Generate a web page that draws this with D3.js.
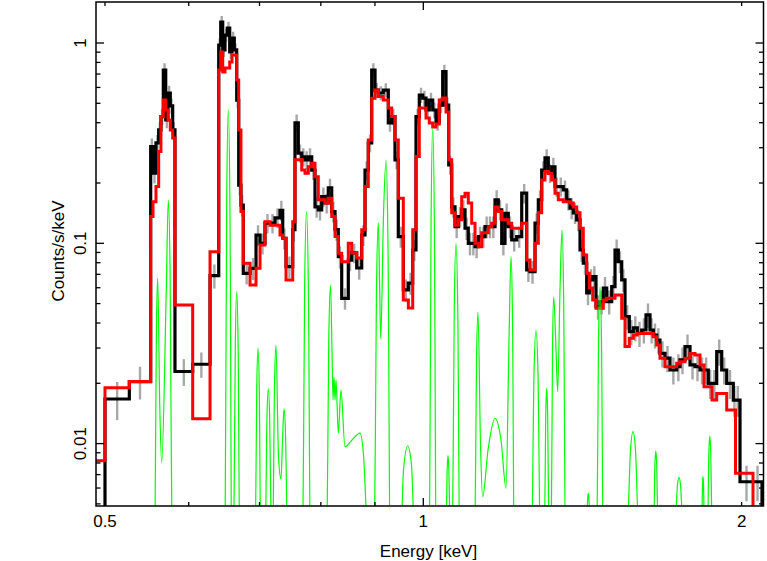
<!DOCTYPE html>
<html><head><meta charset="utf-8">
<script src="https://cdn.jsdelivr.net/npm/d3@7"></script>
<style>html,body{margin:0;padding:0;background:#fff;} svg{display:block;}</style>
</head><body>
<svg id="chart" width="767" height="561"></svg>
<script>
// Bin edges (keV), shared by data and model
const binEdges = [0.4860,0.5000,0.5272,0.5523,0.5551,0.5587,0.5620,0.5648,0.5677,0.5707,0.5735,0.5764,0.5794,0.5823,0.6052,0.6285,0.6405,0.6433,0.6461,0.6493,0.6526,0.6560,0.6593,0.6626,0.6661,0.6690,0.6723,0.6757,0.6857,0.6947,0.7008,0.7084,0.7162,0.7240,0.7319,0.7363,0.7416,0.7525,0.7562,0.7617,0.7674,0.7729,0.7785,0.7843,0.7899,0.7956,0.8015,0.8073,0.8131,0.8192,0.8251,0.8310,0.8372,0.8493,0.8556,0.8650,0.8745,0.8808,0.8871,0.8937,0.9002,0.9067,0.9166,0.9266,0.9335,0.9402,0.9470,0.9574,0.9679,0.9772,0.9842,0.9913,0.9987,1.0059,1.0131,1.0207,1.0280,1.0354,1.0431,1.0507,1.0569,1.0638,1.0715,1.0792,1.0872,1.0951,1.1029,1.1111,1.1192,1.1272,1.1356,1.1438,1.1520,1.1606,1.1690,1.1774,1.1862,1.1947,1.2033,1.2123,1.2255,1.2390,1.2525,1.2616,1.2754,1.2846,1.2941,1.3034,1.3128,1.3226,1.3321,1.3417,1.3564,1.3665,1.3764,1.3863,1.3966,1.4067,1.4168,1.4273,1.4354,1.4461,1.4565,1.4693,1.4799,1.4909,1.5072,1.5181,1.5290,1.5404,1.5515,1.5661,1.5798,1.5936,1.6089,1.6241,1.6383,1.6501,1.6624,1.6743,1.6927,1.7112,1.7364,1.7489,1.7680,1.7874,1.8069,1.8267,1.8427,1.8600,1.8751,1.8944,1.9151,1.9361,1.9641,1.9735,1.9930,2.0502,2.0908,2.1275];

// Observed count rate (counts/s/keV)
const dataRate = [0.003,0.0167,0.0204,0.304,0.224,0.317,0.368,0.429,0.733,0.413,0.563,0.485,0.368,0.0229,0.0249,0.0689,0.977,1.273,0.923,1.096,1.188,0.902,1.059,0.923,0.519,0.195,0.155,0.0708,0.0750,0.110,0.100,0.126,0.126,0.134,0.146,0.106,0.0764,0.117,0.399,0.282,0.270,0.261,0.270,0.232,0.152,0.147,0.171,0.159,0.189,0.144,0.117,0.0857,0.0531,0.0825,0.0895,0.0753,0.110,0.232,0.317,0.733,0.582,0.563,0.582,0.399,0.429,0.261,0.108,0.0585,0.0633,0.0926,0.429,0.550,0.531,0.463,0.519,0.463,0.403,0.490,0.719,0.490,0.246,0.152,0.121,0.136,0.147,0.119,0.100,0.100,0.0962,0.108,0.108,0.121,0.121,0.121,0.165,0.147,0.100,0.141,0.121,0.104,0.108,0.178,0.0736,0.0722,0.126,0.165,0.232,0.267,0.224,0.241,0.192,0.192,0.185,0.165,0.150,0.142,0.131,0.0926,0.0797,0.0565,0.0656,0.0681,0.0483,0.0511,0.0598,0.0511,0.0607,0.0926,0.0809,0.0656,0.0430,0.0362,0.0378,0.0355,0.0369,0.0439,0.0369,0.0348,0.0329,0.0282,0.0267,0.0233,0.0242,0.0262,0.0305,0.0247,0.0242,0.0233,0.0233,0.0200,0.0200,0.0288,0.0233,0.0200,0.0165,0.0165,0.00645,0.00645,0.003];

// 1-sigma errors on the observed rate
const dataErr = [0,0.0036,0.0038,0.030,0.025,0.030,0.034,0.039,0.060,0.038,0.048,0.043,0.034,0.0035,0.0036,0.0095,0.075,0.090,0.072,0.082,0.087,0.071,0.080,0.072,0.046,0.022,0.019,0.0085,0.0095,0.013,0.012,0.014,0.014,0.015,0.017,0.013,0.0095,0.015,0.040,0.029,0.028,0.027,0.028,0.025,0.018,0.017,0.019,0.018,0.021,0.017,0.014,0.011,0.0065,0.010,0.010,0.0095,0.013,0.025,0.032,0.060,0.050,0.045,0.047,0.038,0.040,0.027,0.013,0.0075,0.0080,0.011,0.040,0.048,0.046,0.042,0.046,0.042,0.038,0.044,0.060,0.044,0.026,0.018,0.015,0.016,0.017,0.015,0.013,0.013,0.012,0.013,0.013,0.015,0.015,0.015,0.019,0.017,0.013,0.017,0.015,0.013,0.013,0.020,0.0095,0.0093,0.015,0.019,0.025,0.028,0.024,0.026,0.021,0.021,0.021,0.019,0.018,0.017,0.016,0.012,0.010,0.0075,0.0085,0.0088,0.0068,0.0070,0.0080,0.0070,0.0080,0.012,0.010,0.0085,0.0060,0.0052,0.0054,0.0051,0.0053,0.0062,0.0053,0.0050,0.0048,0.0042,0.0040,0.0036,0.0037,0.0040,0.0045,0.0038,0.0037,0.0036,0.0036,0.0033,0.0033,0.0043,0.0036,0.0033,0.0029,0.0029,0.0013,0.0013,0];

// Folded model rate
const modelRate = [0.0082,0.0190,0.0204,0.136,0.161,0.192,0.287,0.429,0.519,0.463,0.413,0.368,0.336,0.0492,0.0133,0.0908,0.733,0.902,0.716,0.750,0.750,0.804,0.871,0.871,0.654,0.368,0.144,0.0795,0.0619,0.0750,0.0981,0.128,0.123,0.123,0.110,0.106,0.0656,0.128,0.261,0.261,0.232,0.224,0.241,0.251,0.215,0.165,0.165,0.159,0.168,0.136,0.108,0.0891,0.0809,0.100,0.0895,0.0845,0.117,0.192,0.328,0.530,0.582,0.540,0.519,0.474,0.429,0.328,0.168,0.0521,0.0475,0.117,0.271,0.474,0.474,0.422,0.399,0.381,0.394,0.519,0.531,0.452,0.261,0.142,0.123,0.131,0.171,0.178,0.159,0.126,0.100,0.0962,0.113,0.113,0.121,0.126,0.152,0.144,0.131,0.131,0.126,0.119,0.119,0.126,0.0825,0.0736,0.100,0.142,0.207,0.228,0.224,0.207,0.178,0.165,0.161,0.161,0.159,0.152,0.142,0.119,0.0874,0.0708,0.0598,0.0521,0.0474,0.0474,0.0521,0.0531,0.0531,0.0552,0.0552,0.0422,0.0305,0.0336,0.0348,0.0355,0.0355,0.0355,0.0355,0.0342,0.0311,0.0267,0.0242,0.0242,0.0252,0.0256,0.0267,0.0282,0.0277,0.0247,0.0192,0.0192,0.0165,0.0178,0.0178,0.0147,0.0147,0.00711,0.00711,0.003,0.003];

// Line-emission component (unfolded), sampled curve
const lineE = [0.55702,0.55916,0.56081,0.56325,0.56570, 0.57140,0.57390,0.57621,0.57921,
 0.64860,0.65166,0.65401,0.65636,0.65942, 0.66143,0.66407,0.6661,0.66813,0.67077,
 0.69333,0.69580,0.69770,0.69960,0.70207, 0.70872,0.71144,0.71354,0.71564,0.71836,
 0.72015,0.72323,0.72560,0.72955,0.73354, 0.73594,0.73835,0.74076,0.74390,
 0.76824,0.77231,0.77543,0.77855,0.78262,
 0.80991,0.81392,0.81703,0.81970,0.82148,0.82326,0.8251,0.82690,0.8310,0.83588,0.84323,0.85619,0.87123,0.87790,0.88558,
 0.89801,0.90295,0.9067,0.90907,0.91144, 0.91696,0.92198,0.92600,0.93121,
 0.95257,0.95778,0.96659,0.97462,0.98101,
 1.01225,1.01703,1.0207,1.02437,1.02915, 1.05103,1.05342,1.05526,1.05710,1.05949,
 1.06439,1.06971,1.07380,1.07789,1.08321,
 1.11804,1.12282,1.12650,1.13263,1.13809, 1.15130,1.1690,1.18436,1.19733,
 1.20517,1.21044,1.21439,1.21953,
 1.26534,1.27257,1.27814,1.28371,1.29094, 1.30172,1.30542,1.30827,1.31112,1.31482,
 1.32038,1.32489,1.32836,1.33415,1.33993, 1.34669,1.35258,1.35744,1.36377,
 1.42873,1.43076,1.43232,1.43388,1.43591, 1.45826,1.46450,1.4693,1.47410,1.48034,
 1.55898,1.57016,1.57875,1.58734,1.59852, 1.65165,1.65588,1.65913,1.66238,1.66661,
 1.73198,1.73939,1.74509,1.75079,1.75820, 1.83411,1.83671,1.83871,1.84071,1.84331,
 1.85725,1.86227,1.86613,1.86999,1.87501];
const lineRate = [0.002109,0.03484,0.06710,0.01594,0.008000, 0.05912,0.1645,0.06827,0.001582,
 0.001133,0.1483,0.4628,0.1483,0.001133, 0.002218,0.03096,0.05731,0.03096,0.002218,
 0.002728,0.01906,0.03001,0.01906,0.002728, 0.003176,0.01338,0.01874,0.01338,0.003176,
 0.002700,0.01956,0.03107,0.008573,0.006655, 0.01042,0.01489,0.01126,0.003418,
 0.001653,0.06168,0.1438,0.06168,0.001653,
 0.002165,0.03281,0.06189,0.02933,0.01651,0.02150,0.01651,0.02078,0.01129,0.01852,0.009617,0.01042,0.01129,0.008772,0.003302,
 0.001722,0.05614,0.1267,0.06557,0.03328, 0.1384,0.2605,0.09639,0.001367,
 0.003302,0.007385,0.009728,0.007819,0.003302,
 0.001215,0.1270,0.3763,0.1270,0.001215, 0.004056,0.007530,0.008701,0.007530,0.004056,
 0.001858,0.04712,0.0999,0.04712,0.001858,
 0.002393,0.02600,0.04539,0.009840,0.005430, 0.009290,0.01337,0.01042,0.005979,
 0.03290,0.08573,0.04188,0.001950,
 0.002555,0.02226,0.03690,0.02226,0.002555, 0.003161,0.01350,0.01895,0.01350,0.003161,
 0.002262,0.02958,0.05392,0.03290,0.01816, 0.05845,0.1165,0.05271,0.001769,
 0.004661,0.005443,0.005646,0.005443,0.004661, 0.002183,0.03225,0.06049,0.03225,0.002183,
 0.003713,0.009262,0.01147,0.009262,0.003713, 0.003987,0.007842,0.009187,0.007842,0.003987,
 0.004390,0.006248,0.006787,0.006248,0.004390, 0.004380,0.006284,0.006834,0.006284,0.004380,
 0.003773,0.008924,0.01091,0.008924,0.003773];

// Axis ticks and labels
const xTicks = [0.5,0.6,0.7,0.8,0.9,1,2];
const xMajorTicks = [1];
const xLabelValues = [0.5,1,2];
const xLabelText = ["0.5","1","2"];
const yTicks = [0.005,0.006,0.007,0.008,0.009,0.01,0.02,0.03,0.04,0.05,0.06,0.07,0.08,0.09,0.1,0.2,0.3,0.4,0.5,0.6,0.7,0.8,0.9,1];
const yMajorTicks = [0.01,0.1,1];
const yLabelValues = [0.01,0.1,1];
const yLabelText = ["0.01","0.1","1"];
const xTitle = "Energy [keV]";
const yTitle = "Counts/s/keV";

const L = 96, R = 763.5, T = 2, B = 506;
const x = d3.scaleLog().domain([0.4903, 2.0976]).range([L, R]);
const y = d3.scaleLog().domain([0.00488, 1.6022]).range([B, T]);
const FONT = "'Liberation Sans', Arial, Helvetica, sans-serif";
const FS = 17;

const svg = d3.select("#chart");
svg.append("rect").attr("width", 767).attr("height", 561).attr("fill", "#fff");
svg.append("defs").append("clipPath").attr("id", "plotclip")
  .append("rect").attr("x", L).attr("y", T).attr("width", R - L).attr("height", B - T);
const g = svg.append("g").attr("clip-path", "url(#plotclip)");

// error bars
const nb = dataRate.length;
const errIdx = d3.range(nb).filter(i => dataErr[i] > 0);
g.append("g").selectAll("line").data(errIdx).join("line")
  .attr("x1", i => x(Math.sqrt(binEdges[i] * binEdges[i + 1])))
  .attr("x2", i => x(Math.sqrt(binEdges[i] * binEdges[i + 1])))
  .attr("y1", i => y(dataRate[i] + dataErr[i]))
  .attr("y2", i => y(Math.max(dataRate[i] - dataErr[i], 1e-4)))
  .attr("stroke", "#a8a8a8").attr("stroke-width", 2.4);

const step = d3.line().x(d => x(d[0])).y(d => y(d[1])).curve(d3.curveStepAfter);
function histPts(vals) {
  const p = vals.map((v, i) => [binEdges[i], v]);
  p.push([binEdges[vals.length], vals[vals.length - 1]]);
  return p;
}
g.append("path").attr("d", step(histPts(dataRate)))
  .attr("fill", "none").attr("stroke", "#000").attr("stroke-width", 3.2);
g.append("path").attr("d", step(histPts(modelRate)))
  .attr("fill", "none").attr("stroke", "#ff0000").attr("stroke-width", 3);

const lineCurve = d3.line().x(d => x(d[0])).y(d => y(d[1])).curve(d3.curveMonotoneX);
g.append("path").attr("d", lineCurve(lineE.map((e, i) => [e, lineRate[i]])))
  .attr("fill", "none").attr("stroke", "#00ff00").attr("stroke-width", 1.2);

// frame
svg.append("rect").attr("x", L).attr("y", T).attr("width", R - L).attr("height", B - T)
  .attr("fill", "none").attr("stroke", "#000").attr("stroke-width", 1.5);

const ax = svg.append("g").attr("stroke", "#000").attr("stroke-width", 1.3);
xTicks.forEach(v => {
  const len = xMajorTicks.includes(v) ? 8 : 4;
  const px = x(v);
  ax.append("line").attr("x1", px).attr("x2", px).attr("y1", B).attr("y2", B - len);
  ax.append("line").attr("x1", px).attr("x2", px).attr("y1", T).attr("y2", T + len);
});
yTicks.forEach(v => {
  const len = yMajorTicks.includes(v) ? 8 : 4.5;
  const py = y(v);
  ax.append("line").attr("x1", L).attr("x2", L + len).attr("y1", py).attr("y2", py);
  ax.append("line").attr("x1", R).attr("x2", R - len).attr("y1", py).attr("y2", py);
});

svg.append("g").selectAll("text").data(xLabelValues).join("text")
  .attr("x", d => x(d)).attr("y", 527)
  .attr("text-anchor", "middle").attr("font-family", FONT).attr("font-size", FS)
  .text((d, i) => xLabelText[i]);
svg.append("g").selectAll("text").data(yLabelValues).join("text")
  .attr("transform", d => `translate(85.5,${y(d)}) rotate(-90)`)
  .attr("text-anchor", "middle").attr("font-family", FONT).attr("font-size", FS)
  .text((d, i) => yLabelText[i]);

svg.append("text").attr("x", 428.5).attr("y", 557)
  .attr("text-anchor", "middle").attr("font-family", FONT).attr("font-size", FS)
  .text(xTitle);
svg.append("text").attr("transform", `translate(63.5,251) rotate(-90)`)
  .attr("text-anchor", "middle").attr("font-family", FONT).attr("font-size", FS)
  .text(yTitle);
</script>
</body></html>
